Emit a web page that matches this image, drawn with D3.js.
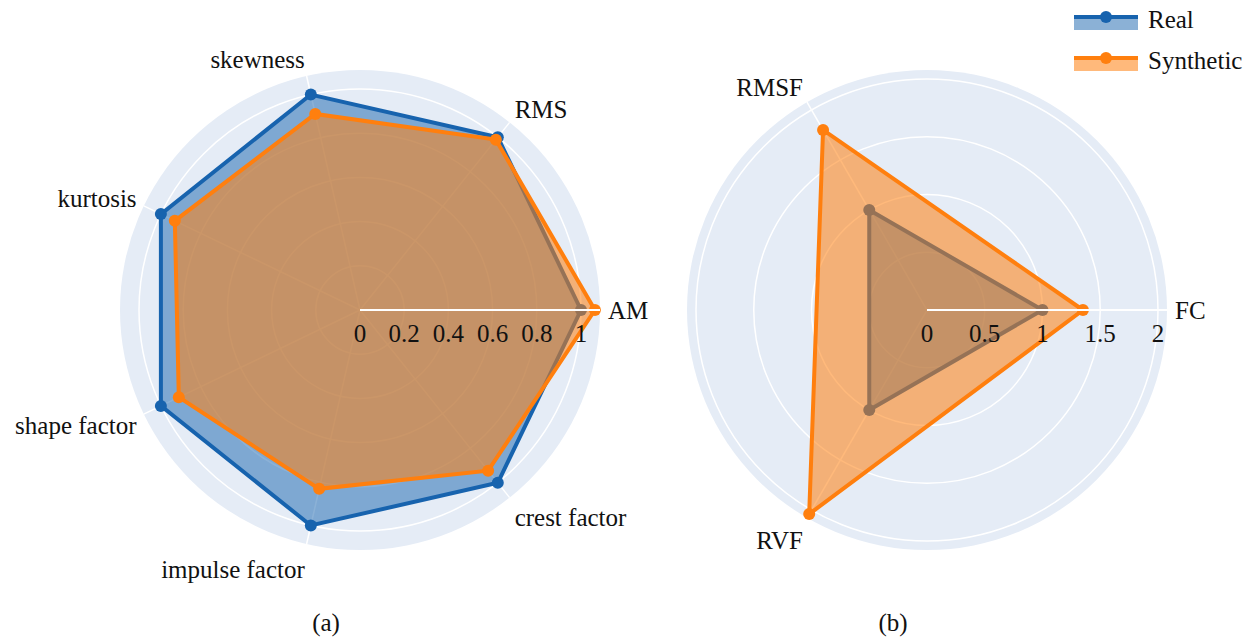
<!DOCTYPE html>
<html>
<head>
<meta charset="utf-8">
<script src="https://cdn.jsdelivr.net/npm/d3@7"></script>
<style>
  body { margin: 0; background: #ffffff; }
  svg { display: block; }
  text { fill: #111; }
</style>
</head>
<body>
<svg id="vis"></svg>
<script>
// chart values
const leftCategories = ["AM", "RMS", "skewness", "kurtosis", "shape factor", "impulse factor", "crest factor"];
const leftReal = [1.0, 1.0, 1.0, 1.0, 1.0, 1.0, 1.0];
const leftSynthetic = [1.063, 0.986, 0.91, 0.93, 0.91, 0.83, 0.93];
const leftTicks = [0, 0.2, 0.4, 0.6, 0.8, 1];
const leftMax = 1.086;

const rightCategories = ["FC", "RMSF", "RVF"];
const rightReal = [1.0, 1.0, 1.0];
const rightSynthetic = [1.35, 1.8, 2.04];
const rightTicks = [0, 0.5, 1, 1.5, 2];
const rightMax = 2.078;

const seriesNames = ["Real", "Synthetic"];
const panelLabels = ["(a)", "(b)"];

const COLORS = {real: "#1763ae", synth: "#ff7f0e", bg: "#e5ecf6"};
const R = 240;
const FONT = 25;
const FAMILY = "'Liberation Serif', 'Times New Roman', 'DejaVu Serif', serif";

const svg = d3.select("#vis").attr("width", 1260).attr("height", 642);

function drawRadar(cx, cy, cats, real, synth, ticks, maxVal, panel){
    const g = svg.append("g").attr("transform", "translate(" + cx + "," + cy + ")");
    const r = d3.scaleLinear().domain([0, maxVal]).range([0, R]);
    const n = cats.length;
    // math angle, counterclockwise from east
    const theta = d3.scaleLinear().domain([0, n]).range([0, 2 * Math.PI]);

    g.append("circle").attr("r", R).attr("fill", COLORS.bg);

    g.selectAll(".grid").data(ticks.filter(t => t > 0)).enter()
        .append("circle")
        .attr("r", d => r(d))
        .attr("fill", "none")
        .attr("stroke", "#ffffff")
        .attr("stroke-width", 1.5);

    g.selectAll(".spoke").data(cats).enter()
        .append("line")
        .attr("x1", 0).attr("y1", 0)
        .attr("x2", (d, i) => R * Math.cos(theta(i)))
        .attr("y2", (d, i) => -R * Math.sin(theta(i)))
        .attr("stroke", "#ffffff")
        .attr("stroke-width", 1.5);

    const line = d3.lineRadial()
        .angle((d, i) => Math.PI / 2 - theta(i))
        .radius(d => r(d))
        .curve(d3.curveLinearClosed);

    [[real, COLORS.real, 0.5], [synth, COLORS.synth, 0.55]].forEach(function(s){
        const vals = s[0], col = s[1];
        g.append("path")
            .attr("d", line(vals))
            .attr("fill", col)
            .attr("fill-opacity", s[2])
            .attr("stroke", col)
            .attr("stroke-width", 4)
            .attr("stroke-linejoin", "miter");
        g.selectAll(null).data(vals).enter()
            .append("circle")
            .attr("cx", (d, i) => r(d) * Math.cos(theta(i)))
            .attr("cy", (d, i) => -r(d) * Math.sin(theta(i)))
            .attr("r", 6)
            .attr("fill", col);
    });

    // radial axis line on top
    g.append("line")
        .attr("x1", 0).attr("y1", 0).attr("x2", R).attr("y2", 0)
        .attr("stroke", "#ffffff")
        .attr("stroke-width", 2);

    g.selectAll(".tick").data(ticks).enter()
        .append("text")
        .attr("x", d => r(d))
        .attr("y", 23)
        .attr("text-anchor", "middle")
        .attr("dominant-baseline", "central")
        .attr("font-family", FAMILY)
        .attr("font-size", FONT)
        .text(d => d3.format("~g")(d));

    g.selectAll(".cat").data(cats).enter()
        .append("text")
        .attr("font-family", FAMILY)
        .attr("font-size", FONT)
        .attr("dominant-baseline", "central")
        .attr("text-anchor", function(d, i){
            const c = Math.cos(theta(i));
            return c > 0.05 ? "start" : (c < -0.05 ? "end" : "middle");
        })
        .attr("x", (d, i) => (R + 8) * Math.cos(theta(i)))
        .attr("y", function(d, i){
            const s = Math.sin(theta(i));
            const py = -(R + 8) * s;
            return s >= 0 ? py - s * 9 : py - s * 18;
        })
        .text(d => d);

    svg.append("text")
        .attr("x", cx - 34)
        .attr("y", 622)
        .attr("text-anchor", "middle")
        .attr("dominant-baseline", "central")
        .attr("font-family", FAMILY)
        .attr("font-size", FONT)
        .text(panel);
}

drawRadar(360, 310, leftCategories, leftReal, leftSynthetic, leftTicks, leftMax, panelLabels[0]);
drawRadar(927, 310, rightCategories, rightReal, rightSynthetic, rightTicks, rightMax, panelLabels[1]);

// legend
const legend = svg.append("g");
[COLORS.real, COLORS.synth].forEach(function(col, i){
    const y = 17 + i * 41;
    legend.append("rect")
        .attr("x", 1074).attr("y", y).attr("width", 64).attr("height", 13)
        .attr("fill", col).attr("fill-opacity", i ? 0.55 : 0.5);
    legend.append("line")
        .attr("x1", 1074).attr("x2", 1138).attr("y1", y).attr("y2", y)
        .attr("stroke", col).attr("stroke-width", 4);
    legend.append("circle")
        .attr("cx", 1106).attr("cy", y).attr("r", 6).attr("fill", col);
    legend.append("text")
        .attr("x", 1148).attr("y", y + 2)
        .attr("dominant-baseline", "central")
        .attr("font-family", FAMILY)
        .attr("font-size", FONT)
        .text(seriesNames[i]);
});
</script>
</body>
</html>
